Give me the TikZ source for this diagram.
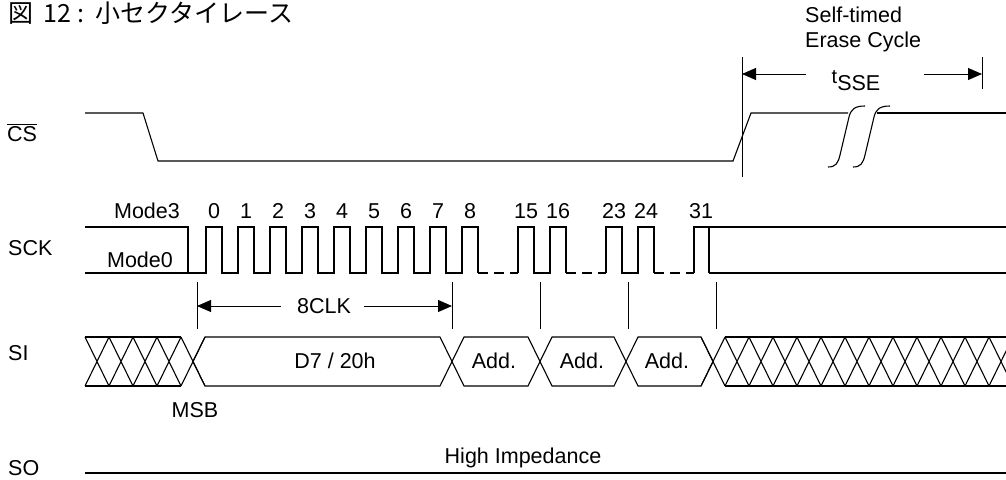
\documentclass[tikz,border=0pt]{standalone}
\usepackage{fontspec}
\setmainfont{Liberation Sans}
\newfontfamily\jpfont{Noto Sans CJK JP}
\usetikzlibrary{arrows.meta}
\tikzset{sig/.style={line width=1.1pt},tck/.style={line width=0.9pt},
  lbl/.style={inner sep=0pt,font=\fontsize{21.5}{25}\selectfont},
  dim/.style={line width=0.9pt,-{Triangle[length=14pt,width=12pt]}}}

\begin{document}
\begin{tikzpicture}[x=1pt,y=-1pt]
  \useasboundingbox (0,0) rectangle (1006,479);
  \node[lbl,anchor=base west] (title) at (8,23) {\jpfont\fontsize{25}{28}\selectfont 図\hspace{10pt}12\hspace{7pt}:\hspace{11pt}小セクタイレース};
  % signal names
  \node[lbl,anchor=base west] (cs) at (7,141) {$\overline{\mbox{CS}}$};
  \node[lbl,anchor=base west] (sck) at (8,255) {SCK};
  \node[lbl,anchor=base west] (si) at (8,360) {SI};
  \node[lbl,anchor=base west] (so) at (8,475) {SO};
  % CS
  \draw[sig] (85,113) -- (143,113) -- (158,161) -- (733,161) -- (751,113) -- (848,113);
  \draw[sig] (877,113) -- (1006,113);
  \foreach \d in {0,25}
    \draw[sig,xshift=\d pt] (828,167) .. controls (836,167) and (838,163) .. (840,155) -- (849,117) .. controls (851,109) and (855,106) .. (865,106);
  % erase cycle
  \coordinate (e1) at (742,57);
  \coordinate (e2) at (982,57);
  \draw[tck] (e1) -- ++(0,120);
  \draw[tck] (e2) -- ++(0,32);
  \node[lbl,anchor=base west] (self) at (805,22) {Self-timed};
  \node[lbl,anchor=base west] (erase) at (805,47) {Erase Cycle};
  \node[lbl,anchor=base] (tsse) at (856,90) {\raisebox{7pt}{\fontsize{20}{20}\selectfont t}SSE};
  \coordinate (la) at (806,74);
  \coordinate (ra) at (924,74);
  \draw[dim] (la) -- (e1 |- la);
  \draw[dim] (ra) -- (e2 |- ra);
  % SCK
  \node[lbl,anchor=base] (m3) at (147,218) {Mode3};
  \node[lbl,anchor=base] (m0) at (140,267) {Mode0};
  \draw[sig] (85,227) -- (188,227) -- (188,273);
  \draw[sig] (85,273) foreach \i in {0,...,8}{ -- (206+32*\i,273) -- (206+32*\i,227) -- (222+32*\i,227) -- (222+32*\i,273)};
  \foreach \i in {0,...,8}
    \node[lbl,anchor=base] (n\i) at (214+32*\i,218) {\i};
  \draw[sig] (518,273) -- (518,227) -- (534,227) -- (534,273) -- (550,273) -- (550,227) -- (566,227) -- (566,273);
  \draw[sig] (606,273) -- (606,227) -- (622,227) -- (622,273) -- (638,273) -- (638,227) -- (654,227) -- (654,273);
  \draw[sig] (694,273) -- (694,227) -- (709,227) -- (709,273);
  \draw[sig] (709,227) -- (1006,227) (709,273) -- (1006,273);
  \foreach \a/\b in {478/518,566/606,654/694}
    \draw[sig,dash pattern=on 10pt off 6pt] (\a,273) -- (\b,273);
  \foreach \n/\x in {15/526,16/558,23/614,24/646,31/701}
    \node[lbl,anchor=base] (n\n) at (\x,218) {\n};
  % clock count
  \foreach \x/\nm in {197/t0,452/t8,540/t16,628/t24,716/t32}{
    \coordinate (\nm) at (\x,282);
    \draw[tck] (\nm) -- ++(0,47);
  }
  \node[lbl] (clk) at (324,306) {8CLK};
  \draw[dim] ([xshift=-16pt]clk.west) -- (t0 |- clk.west);
  \draw[dim] ([xshift=13pt]clk.east) -- (t8 |- clk.east);
  % SI
  \draw[sig] (85,337) -- (181,337) (85,386) -- (181,386);
  \foreach \k in {0,...,4}
    \draw[sig] (85+24*\k,337) -- (109+24*\k,386) (85+24*\k,386) -- (109+24*\k,337);
  \foreach \a/\b in {205/440,464/528,552/614,638/701}
    \draw[sig] (\a,337) -- (\b,337) -- (\b+12,361.5) -- (\b,386) -- (\a,386) -- (\a-12,361.5) -- cycle;
  \node[lbl] (data) at (335,361) {D7 / 20h};
  \node[lbl] (ad1) at (494,361) {Add.};
  \node[lbl] (ad2) at (582,361) {Add.};
  \node[lbl] (ad3) at (667,361) {Add.};
  \node[lbl] (msb) at (195,410) {MSB};
  \draw[sig] (725,337) -- (1006,337) (725,386) -- (1006,386);
  \foreach \k in {0,...,12}
    \draw[sig] (701+24*\k,337) -- (725+24*\k,386) (701+24*\k,386) -- (725+24*\k,337);
  % SO
  \draw[sig] (85,473) -- (1006,473);
  \node[lbl,anchor=base] (hiz) at (523,463) {High Impedance};
\end{tikzpicture}
\end{document}
